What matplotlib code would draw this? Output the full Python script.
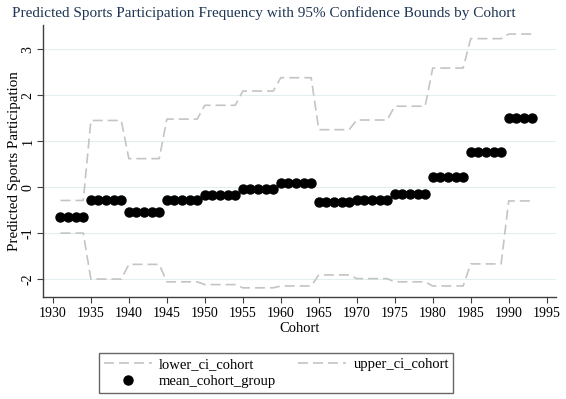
import matplotlib.pyplot as plt
import numpy as np

plt.rcParams['font.family'] = ['Liberation Serif', 'DejaVu Serif']

# cohort groups: first year, last year, and values
GROUP_START = [1931, 1935, 1940, 1945, 1950, 1955, 1960, 1965, 1970, 1975, 1980, 1985, 1990]
GROUP_END = [1934, 1939, 1944, 1949, 1954, 1959, 1964, 1969, 1974, 1979, 1984, 1989, 1993]
MEAN_GROUP = [-0.66, -0.28, -0.54, -0.28, -0.17, -0.05, 0.10, -0.33, -0.27, -0.15, 0.22, 0.77, 1.51]
LOWER_CI = [-1.00, -2.00, -1.68, -2.06, -2.12, -2.19, -2.15, -1.91, -1.99, -2.06, -2.15, -1.67, -0.30]
UPPER_CI = [-0.29, 1.45, 0.62, 1.48, 1.78, 2.09, 2.38, 1.25, 1.46, 1.76, 2.59, 3.23, 3.33]

X_TICKS = list(range(1930, 2000, 5))
Y_TICKS = [-2, -1, 0, 1, 2, 3]


def expand(values):
  """Repeat each group value for every cohort year in the group."""
  years, out = [], []
  for start, end, v in zip(GROUP_START, GROUP_END, values):
    for yr in range(start, end + 1):
      years.append(yr)
      out.append(v)
  return np.array(years), np.array(out)


def main():
  fig = plt.figure(figsize=(5.66, 3.99), dpi=100, facecolor='w')
  ax = fig.add_axes([0.076, 0.2556, 0.906, 0.681])

  years, lower = expand(LOWER_CI)
  _, upper = expand(UPPER_CI)
  _, mean = expand(MEAN_GROUP)

  h_lo, = ax.plot(years, lower, color='#c4c4c4', lw=1.2, dashes=(6, 3), label='lower_ci_cohort', zorder=2)
  h_up, = ax.plot(years, upper, color='#c4c4c4', lw=1.2, dashes=(6, 3), label='upper_ci_cohort', zorder=2)
  h_mean, = ax.plot(years, mean, 'o', color='black', ms=6.5, label='mean_cohort_group', zorder=3)

  ax.set_xlim(1928.7, 1996.2)
  ax.set_ylim(-2.39, 3.52)
  ax.set_xticks(X_TICKS)
  ax.set_yticks(Y_TICKS)
  ax.set_yticklabels([str(t) for t in Y_TICKS], rotation=90, va='center')
  ax.tick_params(axis='both', labelsize=10, direction='out', length=4, color='#404040')
  ax.tick_params(axis='y', pad=2)
  ax.grid(axis='y', color='#e3eef1', lw=0.8, zorder=0)
  ax.set_axisbelow(True)

  for side in ['top', 'right']:
    ax.spines[side].set_visible(False)
  for side in ['left', 'bottom']:
    ax.spines[side].set_color('#404040')
    ax.spines[side].set_linewidth(1.0)

  ax.set_xlabel('Cohort', fontsize=10.5, labelpad=1)
  ax.set_ylabel('Predicted Sports Participation', fontsize=10.8, va='center')
  ax.yaxis.set_label_coords(-0.055, 0.5)
  fig.text(0.466, 0.968, 'Predicted Sports Participation Frequency with 95% Confidence Bounds by Cohort',
           ha='center', va='center', fontsize=11, color='#1f3553')

  # column-major fill: order so rows read lower/upper, then mean
  leg = ax.legend([h_lo, h_mean, h_up], ['lower_ci_cohort', 'mean_cohort_group', 'upper_ci_cohort'],
                  loc='center', bbox_to_anchor=(0.455, -0.28), ncol=2, fontsize=10.5, frameon=True,
                  fancybox=False, edgecolor='#404040', columnspacing=1.5, handlelength=3.3,
                  handletextpad=0.5, borderpad=0.3, labelspacing=0.3, borderaxespad=0)
  leg.get_frame().set_linewidth(1.0)

  fig.savefig('out.png', dpi=100)


if __name__ == '__main__':
  main()
